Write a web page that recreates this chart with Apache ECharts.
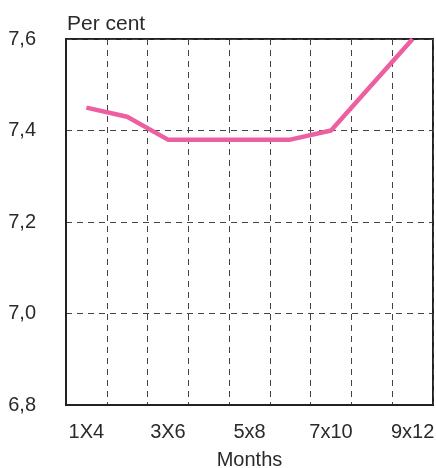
<!DOCTYPE html>
<html>
<head>
<meta charset="utf-8">
<script src="https://cdn.jsdelivr.net/npm/echarts@6/dist/echarts.min.js"></script>
<style>html,body{margin:0;padding:0;background:#fff}#c{width:436px;height:468px}</style>
</head>
<body>
<div id="c"></div>
<script>
const categories = ['1X4', '2X5', '3X6', '4X7', '5x8', '6x9', '7x10', '8x11', '9x12'];
const values = [7.45, 7.43, 7.38, 7.38, 7.38, 7.38, 7.40, 7.50, 7.60];
const yMin = 6.8, yMax = 7.6, yStep = 0.2;
const yTitle = 'Per cent';
const xTitle = 'Months';

const font = '"Liberation Sans", Arial, sans-serif';
const chart = echarts.init(document.getElementById('c'), null, {renderer: 'canvas'});
chart.setOption({
  animation: false,
  backgroundColor: '#fff',
  title: {
    text: yTitle, left: 62, top: 9,
    textStyle: {fontFamily: font, fontSize: 21, fontWeight: 'normal', color: '#2a2a2a'}
  },
  grid: {left: 66, right: 3, top: 39, bottom: 63, show: true, borderColor: '#222', borderWidth: 2,
    containLabel: false, outerBoundsMode: 'none'},
  xAxis: {
    type: 'category', data: categories, boundaryGap: true,
    name: xTitle, nameLocation: 'middle', nameGap: 45,
    nameTextStyle: {fontFamily: font, fontSize: 20, color: '#2a2a2a'},
    axisLine: {show: true, lineStyle: {color: '#222', width: 2}},
    axisTick: {show: false},
    axisLabel: {interval: 1, margin: 17, fontFamily: font, fontSize: 20, color: '#2a2a2a'},
    splitLine: {show: true, interval: 0, lineStyle: {color: '#444', width: 1, type: [6, 5]}}
  },
  yAxis: {
    type: 'value', min: yMin, max: yMax, interval: yStep,
    axisLine: {show: true, lineStyle: {color: '#222', width: 2}},
    axisTick: {show: false},
    axisLabel: {margin: 30, fontFamily: font, fontSize: 20, color: '#2a2a2a',
      formatter: v => v.toFixed(1).replace('.', ',')},
    splitLine: {show: true, lineStyle: {color: '#444', width: 1, type: [6, 5]}}
  },
  series: [{
    type: 'line', data: values, symbol: 'none',
    lineStyle: {color: '#ec5fa0', width: 4.5},
    clip: true
  }]
});
</script>
</body>
</html>
